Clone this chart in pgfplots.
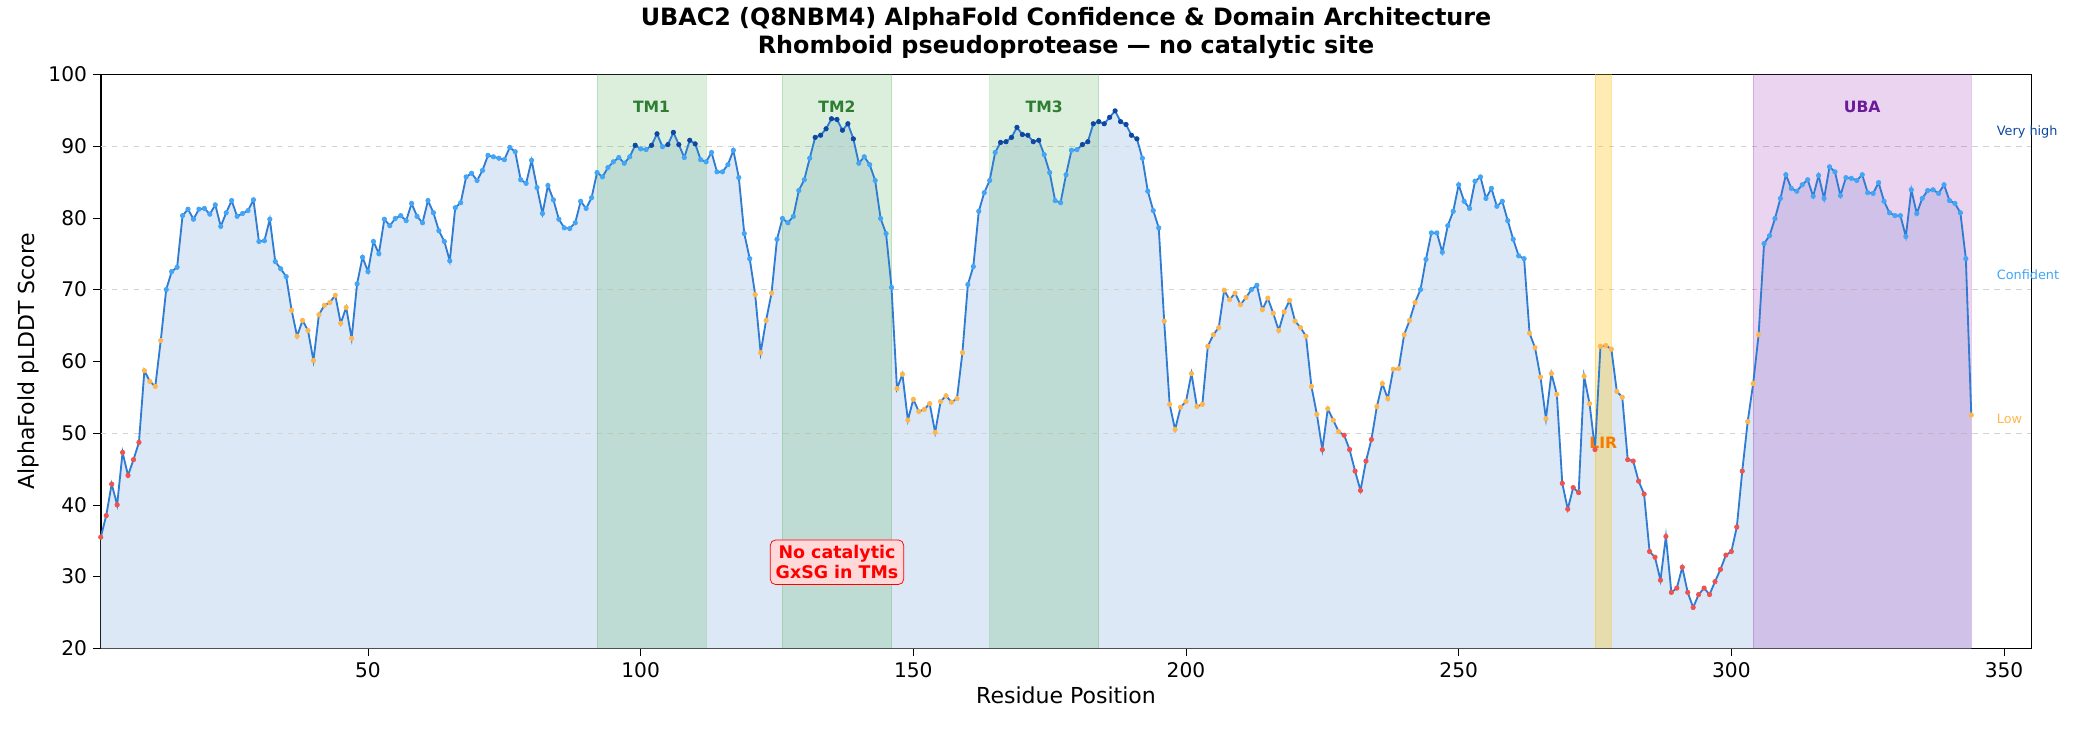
\documentclass[border=0pt]{standalone}
\usepackage{fontspec}
\setmainfont{DejaVu Sans}
\usepackage{pgfplots}
\pgfplotsset{compat=1.18}
\usepackage{pgfplotstable}
\definecolor{linec}{RGB}{48,124,210}
\definecolor{fillc}{RGB}{220,232,246}
\definecolor{vhigh}{RGB}{13,71,161}
\definecolor{conf}{RGB}{66,165,245}
\definecolor{lowc}{RGB}{255,183,77}
\definecolor{vlow}{RGB}{239,83,80}
\definecolor{tmg}{RGB}{76,175,80}
\definecolor{tmtext}{RGB}{46,125,50}
\definecolor{lirc}{RGB}{255,193,7}
\definecolor{lirtext}{RGB}{245,124,0}
\definecolor{ubac}{RGB}{156,39,176}
\definecolor{ubatext}{RGB}{106,27,154}
\pgfplotstableread{
r v
1 35.5
2 38.5
3 42.9
4 40.0
5 47.3
6 44.1
7 46.3
8 48.7
9 58.7
10 57.2
11 56.5
12 62.9
13 70.0
14 72.5
15 73.1
16 80.3
17 81.2
18 79.8
19 81.2
20 81.3
21 80.5
22 81.8
23 78.8
24 80.7
25 82.4
26 80.2
27 80.6
28 81.0
29 82.5
30 76.7
31 76.8
32 79.8
33 73.9
34 72.9
35 71.8
36 67.1
37 63.5
38 65.7
39 64.3
40 60.1
41 66.5
42 67.8
43 68.2
44 69.2
45 65.3
46 67.5
47 63.2
48 70.8
49 74.5
50 72.5
51 76.7
52 75.0
53 79.8
54 78.9
55 79.9
56 80.3
57 79.6
58 82.0
59 80.2
60 79.3
61 82.4
62 80.7
63 78.2
64 76.7
65 74.0
66 81.4
67 82.1
68 85.7
69 86.2
70 85.2
71 86.6
72 88.7
73 88.5
74 88.3
75 88.1
76 89.8
77 89.2
78 85.3
79 84.8
80 88.0
81 84.2
82 80.6
83 84.5
84 82.5
85 79.8
86 78.6
87 78.5
88 79.3
89 82.3
90 81.3
91 82.8
92 86.3
93 85.7
94 87.0
95 87.8
96 88.4
97 87.6
98 88.5
99 90.1
100 89.6
101 89.5
102 90.1
103 91.7
104 89.9
105 90.2
106 91.9
107 90.2
108 88.4
109 90.8
110 90.3
111 88.1
112 87.8
113 89.1
114 86.4
115 86.4
116 87.4
117 89.4
118 85.6
119 77.8
120 74.3
121 69.3
122 61.2
123 65.7
124 69.5
125 77.0
126 79.9
127 79.3
128 80.2
129 83.8
130 85.3
131 88.3
132 91.2
133 91.5
134 92.4
135 93.8
136 93.7
137 92.2
138 93.1
139 91.0
140 87.6
141 88.5
142 87.4
143 85.2
144 79.9
145 77.8
146 70.3
147 56.2
148 58.2
149 51.8
150 54.7
151 53.0
152 53.3
153 54.1
154 50.1
155 54.4
156 55.2
157 54.3
158 54.8
159 61.2
160 70.7
161 73.2
162 80.9
163 83.5
164 85.2
165 89.1
166 90.5
167 90.6
168 91.2
169 92.6
170 91.6
171 91.5
172 90.6
173 90.8
174 88.8
175 86.3
176 82.4
177 82.1
178 86.0
179 89.4
180 89.5
181 90.2
182 90.6
183 93.1
184 93.4
185 93.1
186 94.0
187 94.9
188 93.4
189 93.0
190 91.5
191 91.0
192 88.3
193 83.7
194 81.0
195 78.6
196 65.6
197 54.0
198 50.5
199 53.6
200 54.4
201 58.3
202 53.7
203 54.0
204 62.1
205 63.7
206 64.7
207 69.9
208 68.6
209 69.5
210 67.9
211 68.9
212 70.0
213 70.6
214 67.2
215 68.8
216 66.7
217 64.3
218 66.9
219 68.5
220 65.6
221 64.7
222 63.5
223 56.5
224 52.6
225 47.7
226 53.4
227 51.8
228 50.2
229 49.7
230 47.7
231 44.7
232 42.0
233 46.1
234 49.1
235 53.7
236 56.9
237 54.8
238 58.9
239 59.0
240 63.7
241 65.7
242 68.2
243 70.0
244 74.2
245 77.9
246 77.9
247 75.2
248 78.9
249 80.9
250 84.6
251 82.3
252 81.3
253 85.1
254 85.7
255 82.7
256 84.1
257 81.6
258 82.3
259 79.6
260 77.0
261 74.7
262 74.3
263 63.9
264 61.9
265 57.8
266 52.0
267 58.3
268 55.4
269 43.0
270 39.4
271 42.4
272 41.7
273 57.9
274 54.1
275 47.7
276 62.1
277 62.2
278 61.7
279 55.8
280 55.0
281 46.3
282 46.1
283 43.3
284 41.5
285 33.5
286 32.7
287 29.5
288 35.6
289 27.8
290 28.4
291 31.3
292 27.8
293 25.7
294 27.5
295 28.4
296 27.5
297 29.3
298 31.0
299 33.0
300 33.5
301 36.9
302 44.7
303 51.6
304 56.9
305 63.7
306 76.4
307 77.5
308 79.9
309 82.7
310 86.0
311 84.1
312 83.7
313 84.6
314 85.3
315 83.0
316 85.9
317 82.7
318 87.1
319 86.4
320 83.1
321 85.6
322 85.5
323 85.2
324 86.0
325 83.5
326 83.4
327 84.9
328 82.3
329 80.7
330 80.3
331 80.3
332 77.4
333 83.9
334 80.6
335 82.7
336 83.8
337 83.9
338 83.4
339 84.6
340 82.4
341 82.0
342 80.7
343 74.3
344 52.5
}\plddt
\begin{document}
\begin{tikzpicture}
\begin{axis}[name=ax, scale only axis, width=14.56in, height=4.33in,
  xmin=1, xmax=355, ymin=20, ymax=100,
  xtick={50,100,...,350}, ytick={20,30,...,100},
  tick label style={font=\fontsize{11}{13}\selectfont},
  /pgf/number format/assume math mode=true,
  xlabel={Residue Position}, ylabel={AlphaFold pLDDT Score},
  label style={font=\fontsize{12}{14}\selectfont},
  xlabel style={yshift=2pt}, ylabel style={yshift=-2pt},
  title style={align=center, font=\bfseries\fontsize{13}{15}\selectfont, yshift=-1pt},
  title={UBAC2 (Q8NBM4) AlphaFold Confidence \& Domain Architecture\\Rhomboid pseudoprotease — no catalytic site},
  clip=false, axis line style={line width=0.8pt}, tick style={black},
  major tick length=4pt, tick align=outside, xtick pos=bottom, ytick pos=left]
\addplot[draw=none, fill=fillc] table[x=r,y=v]{\plddt} \closedcycle;
\foreach \yy in {50,70,90} {\edef\tmp{\noexpand\draw[dashed, gray!35, line width=0.5pt] (axis cs:1,\yy) -- (axis cs:355,\yy);}\tmp}
\fill[tmg, opacity=0.2] (axis cs:92,20) rectangle (axis cs:112,100);
\fill[tmg, opacity=0.2] (axis cs:126,20) rectangle (axis cs:146,100);
\fill[tmg, opacity=0.2] (axis cs:164,20) rectangle (axis cs:184,100);
\fill[lirc, opacity=0.3] (axis cs:275,20) rectangle (axis cs:278,100);
\fill[ubac, opacity=0.2] (axis cs:304,20) rectangle (axis cs:344,100);
\foreach \a/\b in {92/112,126/146,164/184} {\edef\tmp{\noexpand\draw[tmg, opacity=0.25] (axis cs:\a,20) -- (axis cs:\a,100) (axis cs:\b,20) -- (axis cs:\b,100);}\tmp}
\draw[lirc, opacity=0.4] (axis cs:275,20) -- (axis cs:275,100) (axis cs:278,20) -- (axis cs:278,100);
\draw[ubac, opacity=0.25] (axis cs:304,20) -- (axis cs:304,100) (axis cs:344,20) -- (axis cs:344,100);
\addplot[linec, line width=1pt, mark=none] table[x=r,y=v]{\plddt};
\addplot[only marks, mark=*, mark size=1.2pt, color=vlow, mark options={draw=vlow, fill=vlow}, restrict y to domain=0:49.99] table[x=r,y=v]{\plddt};
\addplot[only marks, mark=*, mark size=1.2pt, color=lowc, mark options={draw=lowc, fill=lowc}, restrict y to domain=50:69.99] table[x=r,y=v]{\plddt};
\addplot[only marks, mark=*, mark size=1.2pt, color=conf, mark options={draw=conf, fill=conf}, restrict y to domain=70:89.99] table[x=r,y=v]{\plddt};
\addplot[only marks, mark=*, mark size=1.2pt, color=vhigh, mark options={draw=vhigh, fill=vhigh}, restrict y to domain=90:100] table[x=r,y=v]{\plddt};
\node[font=\bfseries\fontsize{8.5}{10}\selectfont, text=tmtext] at (axis cs:102,95.5) {TM1};
\node[font=\bfseries\fontsize{8.5}{10}\selectfont, text=tmtext] at (axis cs:136,95.5) {TM2};
\node[font=\bfseries\fontsize{8.5}{10}\selectfont, text=tmtext] at (axis cs:174,95.5) {TM3};
\node[font=\bfseries\fontsize{8.5}{10}\selectfont, text=lirtext] at (axis cs:276.5,48.6) {LIR};
\node[font=\bfseries\fontsize{8.5}{10}\selectfont, text=ubatext] at (axis cs:324,95.5) {UBA};
\node[font=\fontsize{7}{8}\selectfont, text=vhigh, anchor=west] at (axis cs:347.5,92) {Very high};
\node[font=\fontsize{7}{8}\selectfont, text=conf, anchor=west] at (axis cs:347.5,72) {Confident};
\node[font=\fontsize{7}{8}\selectfont, text=lowc, anchor=west] at (axis cs:347.5,52) {Low};
\node[font=\bfseries\fontsize{9.5}{11}\selectfont, text=red, align=center, fill=red!15, draw=red, rounded corners=3pt, inner sep=3pt] at (axis cs:136,32) {No catalytic\\GxSG in TMs};
\end{axis}
\pgfresetboundingbox
\useasboundingbox ([shift={(-0.76in,-0.61in)}]ax.south west) rectangle ([shift={(0.36in,0.56in)}]ax.north east);
\end{tikzpicture}
\end{document}
